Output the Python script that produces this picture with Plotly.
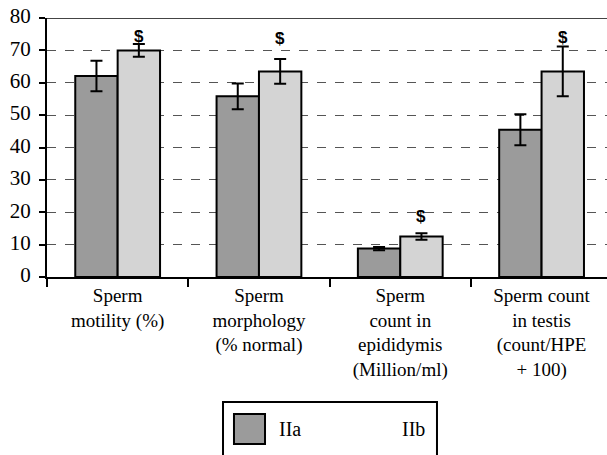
import plotly.graph_objects as go

categories = ["Sperm<br>motility (%)", "Sperm<br>morphology<br>(% normal)",
              "Sperm<br>count in<br>epididymis<br>(Million/ml)",
              "Sperm count<br>in testis<br>(count/HPE<br>+ 100)"]
iia_values = [62.1, 55.8, 8.8, 45.5]
iia_errors = [4.7, 4.0, 0.5, 4.8]
iib_values = [70.0, 63.5, 12.5, 63.5]
iib_errors = [2.0, 3.8, 1.0, 7.7]
sig_labels = ["$", "$", "$", "$"]
sig_y = [74.2, 73.8, 18.6, 74.0]
legend_names = ["IIa", "IIb"]

SERIF = "Liberation Serif, Times New Roman, serif"
C_A = "#9b9b9b"
C_B = "#d4d4d4"

fig = go.Figure()
fig.add_trace(go.Bar(
    name=legend_names[0], x=categories, y=iia_values,
    marker=dict(color=C_A, line=dict(color="black", width=2)),
    error_y=dict(type="data", array=iia_errors, color="black", thickness=2, width=6),
))
fig.add_trace(go.Bar(
    name=legend_names[1], x=categories, y=iib_values,
    marker=dict(color=C_B, line=dict(color="black", width=2)),
    error_y=dict(type="data", array=iib_errors, color="black", thickness=2, width=6),
))

for i, (lab, yv) in enumerate(zip(sig_labels, sig_y)):
    fig.add_annotation(x=i + 0.15, y=yv, text="<b>" + lab + "</b>", showarrow=False,
                       font=dict(family="Liberation Sans, Arial, sans-serif", size=17, color="black"))

# top frame line
fig.add_shape(type="line", xref="paper", yref="y", x0=0, x1=1, y0=80, y1=80,
              line=dict(color="#444444", width=2))

# legend box (drawn manually to match the large swatch of the original)
fig.add_shape(type="rect", xref="paper", yref="paper", x0=0.3143, x1=0.6964,
              y0=-0.4826, y1=-0.74, line=dict(color="black", width=2), fillcolor="white")
fig.add_shape(type="rect", xref="paper", yref="paper", x0=0.3339, x1=0.3893,
              y0=-0.529, y1=-0.6448, line=dict(color="black", width=2), fillcolor=C_A)
fig.add_annotation(xref="paper", yref="paper", x=0.4107, y=-0.587, xanchor="left",
                   yanchor="middle", text=legend_names[0], showarrow=False,
                   font=dict(family=SERIF, size=20, color="black"))
fig.add_annotation(xref="paper", yref="paper", x=0.6786, y=-0.587, xanchor="right",
                   yanchor="middle", text=legend_names[1], showarrow=False,
                   font=dict(family=SERIF, size=20, color="black"))

fig.update_layout(
    width=607, height=455,
    margin=dict(l=47, r=0, t=18, b=178),
    paper_bgcolor="white", plot_bgcolor="white",
    barmode="group", bargap=0.4, bargroupgap=0,
    font=dict(family=SERIF, size=19, color="black"),
    showlegend=False,
    xaxis=dict(range=[-0.5, 3.463], showline=True, linecolor="black", linewidth=2,
               ticks="outside", tickson="boundaries", ticklen=8, tickwidth=2,
               tickcolor="black", showgrid=False, automargin=False,
               tickfont=dict(family=SERIF, size=19)),
    yaxis=dict(range=[0, 80], dtick=10, showline=True, linecolor="black", linewidth=2,
               ticks="outside", ticklen=6, tickwidth=2, tickcolor="black",
               ticklabelstandoff=4, ticklabeloverflow="allow", automargin=False,
               ticklabelshift=-2,
               showgrid=True, gridcolor="#555555", griddash="dash", gridwidth=1,
               zeroline=False, tickfont=dict(family=SERIF, size=21)),
)

fig.write_html("out.html", config={"displayModeBar": False},
               post_script="document.body.style.margin='0';document.body.style.overflow='hidden';")
